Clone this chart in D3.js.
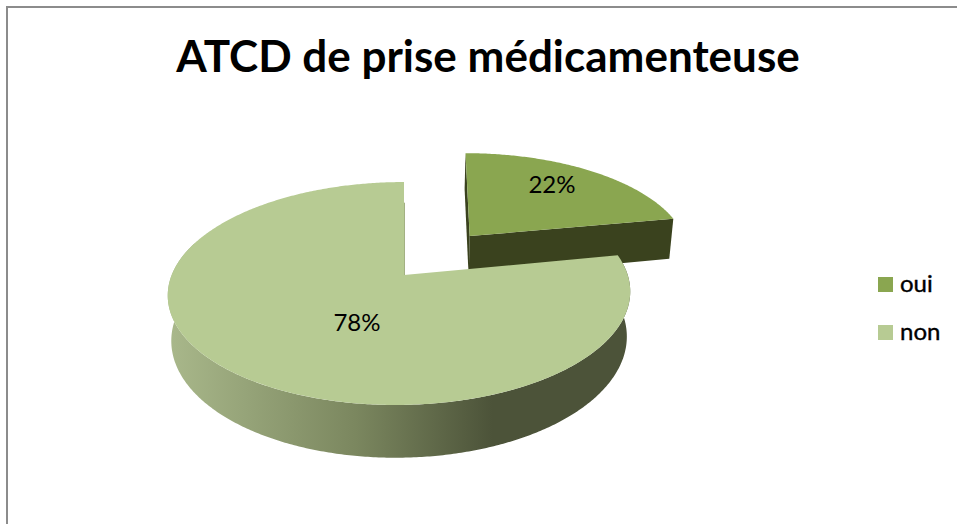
<!DOCTYPE html>
<html>
<head>
<meta charset="utf-8">
<script src="https://cdn.jsdelivr.net/npm/d3@7/dist/d3.min.js"></script>
<style>html,body{margin:0;padding:0;background:#fff;overflow:hidden}svg{display:block}</style>
</head>
<body>
<svg id="chart" width="957" height="524"></svg>
<script>
const titleText = "ATCD de prise médicamenteuse";
const categories = ["oui", "non"];
const values = [22, 78];
const faceColors = ["#8aa650", "#b7cb93"];
const sideColor = "#3a421e";
const wallColor = "#a3b183";
const gradientColors = ["#a8b78a", "#7b875f", "#4c5339", "#4c5339"];
const explode = [0.495, 0];

// layout of the projected pie
const W = 957, H = 524;
const cx = 404, cy = 275, R = 228, Ry = 108.4, persp = 0.166;
const depth = 44, floorShrink = 0.985;
const skew = [{ s: 5, c: 0.78 }, { s: 4.3, c: 1 }];
const labelPos = [[552, 183], [357, 321]];

const svg = d3.select("#chart");
const color = d3.scaleOrdinal().domain(categories).range(faceColors);
const pie = d3.pie().sort(null).value(d => d.v);
const arcs = pie(categories.map((c, i) => ({ c, v: values[i], e: explode[i] })));

function project(u, v, lower, sk) {
  const w = 1 + persp * v;
  let x = R * u / w, y = -Ry * v / w;
  x += sk.s * (v - sk.c);
  if (lower) { x *= floorShrink; y += depth / w; }
  return [cx + x, cy + y];
}
function rim(a0, a1, d, lower, sk) {
  const n = Math.max(2, Math.round(Math.abs(a1 - a0) / 0.01));
  return d3.range(n + 1).map(i => {
    const a = a0 + (a1 - a0) * i / n;
    return project(Math.sin(a) + d.du, Math.cos(a) + d.dv, lower, sk);
  });
}
const line = d3.line();
const defs = svg.append("defs");
const grad = defs.append("linearGradient").attr("id", "sideGrad")
  .attr("gradientUnits", "userSpaceOnUse")
  .attr("x1", 172).attr("x2", 630).attr("y1", 0).attr("y2", 0);
[0, 0.4, 0.7, 1].forEach((o, i) => grad.append("stop").attr("offset", o).attr("stop-color", gradientColors[i]));

// frame
svg.append("path").attr("d", line([[7, H], [7, 7], [W, 7]]))
  .attr("fill", "none").attr("stroke", "#8c8c8c").attr("stroke-width", 2);

const geo = arcs.map(a => {
  const mid = (a.startAngle + a.endAngle) / 2;
  return { a, mid, du: a.data.e * Math.sin(mid), dv: a.data.e * Math.cos(mid) };
});

// exploded slice (drawn first, sits behind the large one)
const small = geo[0];
const sStart = project(small.du, small.dv, false, skew[0]);
const sRim = rim(small.a.startAngle, small.a.endAngle, small, false, skew[0]);
const sFloorApex = project(small.du, small.dv, true, skew[0]);
const sFloorRim = rim(small.a.startAngle, small.a.endAngle, small, true, skew[0]);
svg.append("path").attr("fill", sideColor).attr("d", line([sRim[0], sStart, sFloorApex, sFloorRim[0]]) + "Z");
svg.append("path").attr("fill", sideColor).attr("d", line([sStart, sRim[sRim.length - 1], sFloorRim[sFloorRim.length - 1], sFloorApex]) + "Z");
svg.append("path").attr("fill", color(categories[0])).attr("d", line([sStart].concat(sRim)) + "Z");

// large slice
const big = geo[1];
const a0 = big.a.startAngle, a1 = big.a.endAngle;
const sideTop = rim(a0, Math.PI * 1.6, big, false, skew[1]);
const sideBottom = rim(a0, Math.PI * 1.6, big, true, skew[1]);
svg.append("path").attr("fill", "url(#sideGrad)").attr("d", line(sideTop.concat(sideBottom.reverse())) + "Z");
svg.append("path").attr("fill", color(categories[1]))
  .attr("d", line([[cx, cy]].concat(rim(a0, a1, big, false, skew[1]))) + "Z");
// thin inner wall beside the cut
svg.append("path").attr("fill", "none").attr("stroke", wallColor).attr("stroke-width", 1)
  .attr("d", line([[cx + 0.5, cy], [cx + 0.5, project(0, 0.75, false, skew[1])[1]]]));

// percentage labels
const total = d3.sum(values);
svg.selectAll("text.pct").data(arcs).join("text").attr("class", "pct")
  .attr("x", (d, i) => labelPos[i][0]).attr("y", (d, i) => labelPos[i][1])
  .attr("text-anchor", "middle").attr("dominant-baseline", "central")
  .attr("font-family", "Lato, sans-serif").attr("font-size", 24).attr("fill", "#000")
  .text(d => Math.round(d.data.v / total * 100) + "%");

// title
svg.append("text").attr("x", 488).attr("y", 72).attr("text-anchor", "middle")
  .attr("font-family", "Lato, sans-serif").attr("font-weight", 700).attr("font-size", 44).attr("fill", "#000")
  .text(titleText);

// legend
const legendY = d3.scalePoint().domain(categories).range([285, 333]);
const lg = svg.selectAll("g.lg").data(categories).join("g").attr("class", "lg")
  .attr("transform", d => `translate(878,${legendY(d)})`);
lg.append("rect").attr("x", 0).attr("y", -8).attr("width", 15).attr("height", 15).attr("fill", d => color(d));
lg.append("text").attr("x", 22).attr("y", 7)
  .attr("font-family", "Lato, sans-serif").attr("font-size", 24).attr("fill", "#000")
  .attr("stroke", "#000").attr("stroke-width", 0.4)
  .text(d => d);
</script>
</body>
</html>
